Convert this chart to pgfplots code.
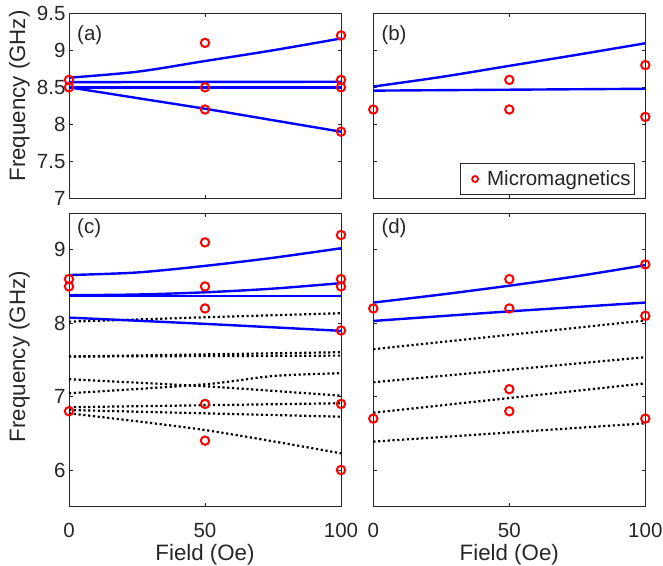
\documentclass[border=0pt]{standalone}
\usepackage{fontspec}
\setmainfont{Liberation Sans}
\usepackage{pgfplots}
\pgfplotsset{compat=1.18}
\definecolor{axcol}{RGB}{38,38,38}
\newcommand\tickfont{\fontsize{20.5bp}{23bp}\selectfont}
\newcommand\labfont{\fontsize{22.3bp}{26bp}\selectfont}
\pgfplotsset{
 base/.style={scale only axis, width=272bp, xmin=0, xmax=100, xtick={0,50,100}, clip=false,
   /pgf/number format/assume math mode=true,
   axis line style={draw=axcol, line width=0.6bp},
   tick style={draw=axcol, line width=0.6bp},
   tick align=inside, major tick length=3.5bp,
   ticklabel style={font=\tickfont, text=axcol},
   xticklabel style={yshift=-13bp},
   label style={font=\labfont, text=axcol},
 },
 toprow/.style={height=185bp, ymin=7, ymax=9.5, ytick={7,7.5,8,8.5,9,9.5}, xticklabels={}},
 botrow/.style={height=293.7bp, ymin=5.5, ymax=9.5, ytick={6,7,8,9},
   xlabel={Field (Oe)}, xlabel style={at={(axis description cs:0.5,-0.1285)}, anchor=north, inner sep=0pt}},
 blueline/.style={color={rgb,1:red,0;green,0;blue,1}, line width=2.4bp},
 dotl/.style={black, line width=2.2bp, dash pattern=on 2.2bp off 2.6bp},
 mm/.style={only marks, mark=o, mark size=4.2bp, color=red, mark options={line width=2bp, draw=red}},
}
\begin{document}
\begin{tikzpicture}
\useasboundingbox (-69bp,13.3bp) rectangle (594bp,-552.7bp);
% (a)
\begin{axis}[base, toprow, at={(0bp,0bp)}, anchor=north west,
  ylabel={Frequency (GHz)}, ylabel style={at={(axis description cs:-0.2217,0.553)}, anchor=north, inner sep=0pt}]
\addplot[blueline, smooth] coordinates {(0,8.63)(25,8.71)(50,8.855)(75,9.0)(100,9.16)};
\addplot[blueline] coordinates {(0,8.57)(100,8.575)};
\addplot[blueline] coordinates {(0,8.5)(100,8.5)};
\addplot[blueline, smooth] coordinates {(0,8.5)(25,8.355)(50,8.21)(75,8.055)(100,7.9)};
\addplot[mm] coordinates {(0,8.6)(0,8.5)(50,9.1)(50,8.5)(50,8.2)(100,9.2)(100,8.6)(100,8.5)(100,7.9)};
\node[anchor=north west, inner sep=0pt, font=\tickfont, text=axcol, xshift=8bp, yshift=-11.7bp] at (rel axis cs:0,1) {(a)};
\end{axis}
% (b)
\begin{axis}[base, toprow, at={(304.3bp,0bp)}, anchor=north west, yticklabels={},
  legend style={at={(rel axis cs:0.962,0.018)}, anchor=south east, draw=axcol, line width=0.6bp, font=\tickfont, text=axcol, inner xsep=2bp, inner ysep=5.5bp}]
\addplot[blueline, smooth, forget plot] coordinates {(0,8.51)(25,8.64)(50,8.79)(75,8.94)(100,9.095)};
\addplot[blueline, forget plot] coordinates {(0,8.455)(100,8.48)};
\addplot[mm, legend image code/.code={\path[draw=none,fill=none] (0bp,0bp) -- (23bp,0bp);
     \path[draw=none] plot[mark=o, mark size=3bp, mark options={line width=1.8bp, draw=red, fill=none}] coordinates {(13bp,0bp)};}] coordinates {(0,8.2)(50,8.6)(50,8.2)(100,8.8)(100,8.1)};
\addlegendentry{Micromagnetics}
\node[anchor=north west, inner sep=0pt, font=\tickfont, text=axcol, xshift=8bp, yshift=-11.7bp] at (rel axis cs:0,1) {(b)};
\end{axis}
% (c)
\begin{axis}[base, botrow, at={(0bp,-199.7bp)}, anchor=north west,
  ylabel={Frequency (GHz)}, ylabel style={at={(axis description cs:-0.2217,0.511)}, anchor=north, inner sep=0pt}]
\addplot[dotl] coordinates {(0,8.02)(50,8.08)(100,8.135)};
\addplot[dotl] coordinates {(0,7.545)(100,7.604)};
\addplot[dotl] coordinates {(0,7.545)(100,7.558)};
\addplot[dotl, smooth] coordinates {(0,7.236)(50,7.14)(100,7.012)};
\addplot[dotl, smooth] coordinates {(0,7.045)(50,7.167)(75,7.28)(100,7.318)};
\addplot[dotl] coordinates {(0,6.855)(100,6.909)};
\addplot[dotl] coordinates {(0,6.817)(100,6.726)};
\addplot[dotl, smooth] coordinates {(0,6.772)(50,6.544)(100,6.227)};
\addplot[blueline, smooth] coordinates {(0,8.655)(25,8.69)(50,8.78)(75,8.89)(100,9.02)};
\addplot[blueline, smooth] coordinates {(0,8.38)(25,8.39)(50,8.42)(75,8.47)(100,8.545)};
\addplot[blueline] coordinates {(0,8.37)(100,8.37)};
\addplot[blueline, smooth] coordinates {(0,8.075)(50,7.99)(100,7.895)};
\addplot[mm] coordinates {(0,8.6)(0,8.5)(0,6.8)(50,9.1)(50,8.5)(50,8.2)(50,6.9)(50,6.4)(100,9.2)(100,8.6)(100,8.5)(100,7.9)(100,6.9)(100,6.0)};
\node[anchor=north west, inner sep=0pt, font=\tickfont, text=axcol, xshift=8bp, yshift=-5bp] at (rel axis cs:0,1) {(c)};
\end{axis}
% (d)
\begin{axis}[base, botrow, at={(304.3bp,-199.7bp)}, anchor=north west, yticklabels={}]
\addplot[dotl] coordinates {(0,7.645)(100,8.036)};
\addplot[dotl] coordinates {(0,7.195)(100,7.536)};
\addplot[dotl] coordinates {(0,6.78)(100,7.18)};
\addplot[dotl] coordinates {(0,6.386)(100,6.636)};
\addplot[blueline, smooth] coordinates {(0,8.28)(25,8.39)(50,8.51)(75,8.64)(100,8.79)};
\addplot[blueline, smooth] coordinates {(0,8.03)(50,8.16)(100,8.28)};
\addplot[mm] coordinates {(0,8.2)(0,6.7)(50,8.6)(50,8.2)(50,7.1)(50,6.8)(100,8.8)(100,8.1)(100,6.7)};
\node[anchor=north west, inner sep=0pt, font=\tickfont, text=axcol, xshift=8bp, yshift=-5bp] at (rel axis cs:0,1) {(d)};
\end{axis}
\end{tikzpicture}
\end{document}
